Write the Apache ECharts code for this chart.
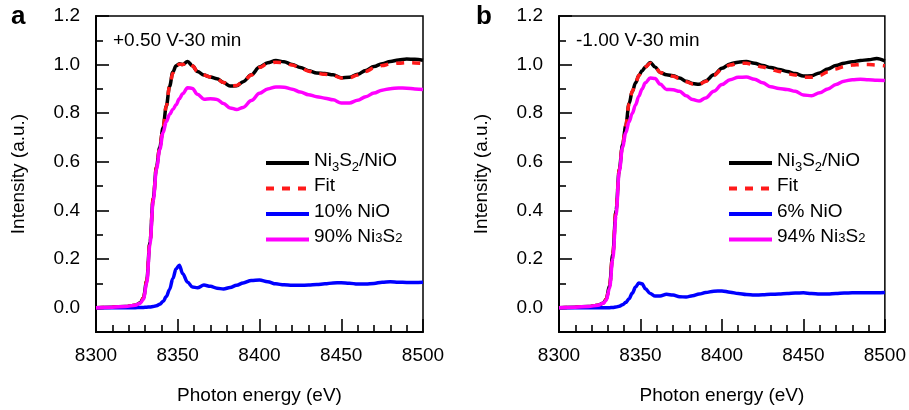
<!DOCTYPE html>
<html><head><meta charset="utf-8">
<script src="https://cdn.jsdelivr.net/npm/echarts@6/dist/echarts.min.js"></script>
<style>html,body{margin:0;padding:0;background:#fff}#c{width:909px;height:410px}</style>
</head><body><div id="c"></div>
<script>
// ---- data ----
const energy = [8300,8310,8318,8324,8327,8329,8331,8333,8335,8337,8339,8341,8343,8345,8347,8349,8351,8353,8356,8359,8362,8366,8370,8374,8378,8382,8386,8390,8395,8400,8405,8410,8415,8420,8425,8430,8435,8440,8445,8450,8455,8460,8465,8470,8475,8480,8485,8490,8495,8500];

const aData = [0.000,0.002,0.005,0.010,0.020,0.040,0.11,0.27,0.45,0.58,0.66,0.74,0.83,0.91,0.97,0.995,1.004,1.000,1.013,0.995,0.972,0.957,0.949,0.942,0.926,0.912,0.913,0.930,0.958,0.990,1.008,1.017,1.012,1.000,0.988,0.975,0.966,0.963,0.958,0.946,0.948,0.960,0.976,0.992,1.004,1.013,1.019,1.023,1.022,1.018];
const aFit  = [0.000,0.002,0.005,0.010,0.020,0.040,0.11,0.27,0.45,0.58,0.66,0.74,0.83,0.91,0.965,0.992,1.002,1.000,1.010,0.995,0.972,0.957,0.949,0.941,0.926,0.913,0.914,0.930,0.957,0.988,1.004,1.010,1.008,0.998,0.986,0.973,0.964,0.960,0.955,0.945,0.946,0.957,0.972,0.986,0.996,1.003,1.006,1.008,1.007,1.005];
const aNiO  = [0.000,0.000,0.000,0.000,0.001,0.001,0.002,0.003,0.005,0.008,0.014,0.025,0.046,0.075,0.120,0.160,0.175,0.140,0.105,0.085,0.082,0.093,0.088,0.080,0.077,0.083,0.092,0.102,0.112,0.114,0.107,0.098,0.094,0.092,0.092,0.093,0.095,0.098,0.102,0.103,0.101,0.097,0.097,0.100,0.105,0.107,0.105,0.104,0.104,0.105];
const aNi3S2= [0.000,0.002,0.005,0.010,0.018,0.035,0.10,0.26,0.44,0.57,0.65,0.72,0.765,0.795,0.815,0.835,0.860,0.880,0.905,0.902,0.878,0.858,0.860,0.857,0.840,0.822,0.815,0.824,0.852,0.882,0.900,0.908,0.907,0.899,0.887,0.876,0.868,0.862,0.855,0.842,0.842,0.853,0.868,0.883,0.895,0.901,0.904,0.903,0.900,0.898];

const bData = [0.000,0.002,0.005,0.010,0.018,0.035,0.09,0.22,0.40,0.57,0.67,0.75,0.84,0.89,0.925,0.955,0.975,0.990,1.009,0.990,0.968,0.958,0.954,0.945,0.932,0.922,0.919,0.933,0.958,0.985,1.003,1.010,1.013,1.006,0.996,0.988,0.980,0.972,0.963,0.953,0.954,0.966,0.982,0.996,1.006,1.012,1.017,1.020,1.025,1.015];
const bFit  = [0.000,0.002,0.005,0.010,0.018,0.035,0.09,0.22,0.40,0.57,0.67,0.75,0.84,0.89,0.925,0.955,0.975,0.990,1.006,0.990,0.968,0.957,0.952,0.943,0.930,0.920,0.918,0.931,0.955,0.981,0.998,1.005,1.006,0.998,0.990,0.980,0.972,0.963,0.957,0.948,0.948,0.956,0.970,0.982,0.992,0.998,1.000,1.000,0.998,0.995];
const bNiO  = [0.000,0.000,0.000,0.000,0.000,0.000,0.000,0.001,0.003,0.006,0.012,0.022,0.037,0.060,0.085,0.102,0.098,0.078,0.058,0.048,0.048,0.055,0.052,0.045,0.044,0.049,0.056,0.062,0.068,0.069,0.064,0.058,0.054,0.052,0.053,0.055,0.056,0.058,0.060,0.061,0.058,0.056,0.056,0.058,0.060,0.061,0.061,0.061,0.061,0.062];
const bNi3S2= [0.000,0.002,0.005,0.010,0.018,0.030,0.08,0.20,0.38,0.56,0.66,0.72,0.765,0.800,0.835,0.870,0.900,0.925,0.945,0.943,0.920,0.898,0.897,0.890,0.872,0.856,0.850,0.863,0.890,0.918,0.938,0.948,0.949,0.940,0.925,0.909,0.902,0.898,0.890,0.875,0.872,0.884,0.900,0.918,0.932,0.938,0.940,0.938,0.936,0.935];

const xTicks = [8300, 8350, 8400, 8450, 8500];
const yMajorTicks = [0, 0.2, 0.4, 0.6, 0.8, 1.0, 1.2];
const yMinorTicks = [0.1, 0.3, 0.5, 0.7, 0.9, 1.1];
const panelLetters = ['a', 'b'];
const conditions = ['+0.50 V-30 min', '-1.00 V-30 min'];
const nioLabels = ['10% NiO', '6% NiO'];
const ni3s2Labels = ['90% Ni3S2', '94% Ni3S2'];

// ---- chart ----
const FONT = '"Liberation Sans", Arial, sans-serif';
const FS = 19;
const LW = 3.5;
const chart = echarts.init(document.getElementById('c'));
const zip = (xs, ys) => xs.map((x, i) => [x, ys[i]]);

const grids = [
  {left: 96, top: 16, width: 327, height: 318},
  {left: 559, top: 16, width: 326, height: 318}
];

const xAxes = [], yAxes = [], series = [], legends = [], graphics = [];
const legendText = {};
const panels = [
  {data: aData, fit: aFit, nio: aNiO, ni: aNi3S2},
  {data: bData, fit: bFit, nio: bNiO, ni: bNi3S2}
];

panels.forEach((p, g) => {
  xAxes.push({
    gridIndex: g, type: 'value', min: xTicks[0], max: xTicks[xTicks.length - 1], interval: 50,
    axisLine: {show: true, onZero: false, lineStyle: {color: '#000', width: 2}},
    axisTick: {show: true, inside: true, length: 13, lineStyle: {color: '#000', width: 1.6}},
    minorTick: {show: true, splitNumber: 5, length: 7, lineStyle: {color: '#000', width: 1.6}},
    axisLabel: {fontSize: FS, color: '#000', fontFamily: FONT, margin: 14, formatter: v => String(v)},
    splitLine: {show: false},
    name: 'Photon energy (eV)', nameLocation: 'middle', nameGap: 54,
    nameTextStyle: {fontSize: FS, color: '#000', fontFamily: FONT}
  });
  yAxes.push({
    gridIndex: g, type: 'value', min: -0.1, max: 1.2, position: 'left',
    axisLine: {show: true, onZero: false, lineStyle: {color: '#000', width: 2}},
    axisTick: {show: true, inside: true, length: 13, customValues: yMajorTicks, lineStyle: {color: '#000', width: 1.6}},
    axisLabel: {customValues: yMajorTicks, formatter: v => v.toFixed(1), fontSize: FS, color: '#000', fontFamily: FONT, margin: 16},
    splitLine: {show: false},
    name: 'Intensity (a.u.)', nameLocation: 'middle', nameGap: 68,
    nameTextStyle: {fontSize: FS, color: '#000', fontFamily: FONT}
  });
  yAxes.push({
    gridIndex: g, type: 'value', min: -0.1, max: 1.2, position: 'left', offset: 0,
    axisLine: {show: false},
    axisTick: {show: true, inside: true, length: 7, customValues: yMinorTicks, lineStyle: {color: '#000', width: 1.6}},
    axisLabel: {show: false},
    splitLine: {show: false}
  });
  const names = ['d' + g, 'f' + g, 'n' + g, 's' + g];
  legendText[names[0]] = '{t|Ni}{sub|3}{t|S}{sub|2}{t|/NiO}';
  legendText[names[1]] = '{t|Fit}';
  legendText[names[2]] = '{t|' + nioLabels[g] + '}';
  const m = ni3s2Labels[g].match(/^(.*Ni)3S2$/);
  legendText[names[3]] = '{t|' + m[1] + '}{sm|3}{t|S}{sm|2}';
  const defs = [
    [names[0], p.data, '#000000', 'solid'],
    [names[1], p.fit, '#ff1a1a', [8, 8]],
    [names[2], p.nio, '#0000ff', 'solid'],
    [names[3], p.ni, '#ff00ff', 'solid']
  ];
  defs.forEach(([nm, ys, col, type]) => {
    series.push({
      name: nm, type: 'line', xAxisIndex: g, yAxisIndex: g * 2,
      data: zip(energy, ys), showSymbol: false, symbol: 'none',
      smooth: 0.35, smoothMonotone: 'x', clip: true,
      lineStyle: {color: col, width: LW, type: type}, itemStyle: {color: col}
    });
  });
  legends.push({
    data: names, orient: 'vertical', left: g === 0 ? 264 : 727, top: 151, padding: 0,
    itemWidth: 43, itemHeight: 14, itemGap: 2.5, selectedMode: false,
    itemStyle: {color: 'rgba(0,0,0,0)', borderWidth: 0, opacity: 0},
    lineStyle: {width: 4},
    formatter: n => legendText[n],
    textStyle: {
      color: '#000', fontFamily: FONT, fontSize: FS,
      rich: {
        t: {fontSize: FS, fontFamily: FONT, color: '#000', lineHeight: 22, verticalAlign: 'bottom', padding: [0, 0, 4, 0]},
        sub: {fontSize: 13, fontFamily: FONT, color: '#000', lineHeight: 14, verticalAlign: 'bottom', padding: [0, 0, 0, 0]},
        sm: {fontSize: 13, fontFamily: FONT, color: '#000', lineHeight: 14, verticalAlign: 'bottom', padding: [0, 0, 5.5, 0]}
      }
    }
  });
  graphics.push({
    type: 'text', left: g === 0 ? 11 : 476, top: 4,
    style: {text: panelLetters[g], font: 'bold 26px ' + FONT, fill: '#000'}
  });
  graphics.push({
    type: 'text', left: grids[g].left + 17, top: 31,
    style: {text: conditions[g], font: FS + 'px ' + FONT, fill: '#000'}
  });
});

chart.setOption({
  animation: false,
  backgroundColor: '#fff',
  grid: grids.map(gr => Object.assign({show: true, borderColor: '#000', borderWidth: 1.5, backgroundColor: 'transparent'}, gr)),
  xAxis: xAxes,
  yAxis: yAxes,
  legend: legends,
  series: series,
  graphic: graphics
});
</script></body></html>
